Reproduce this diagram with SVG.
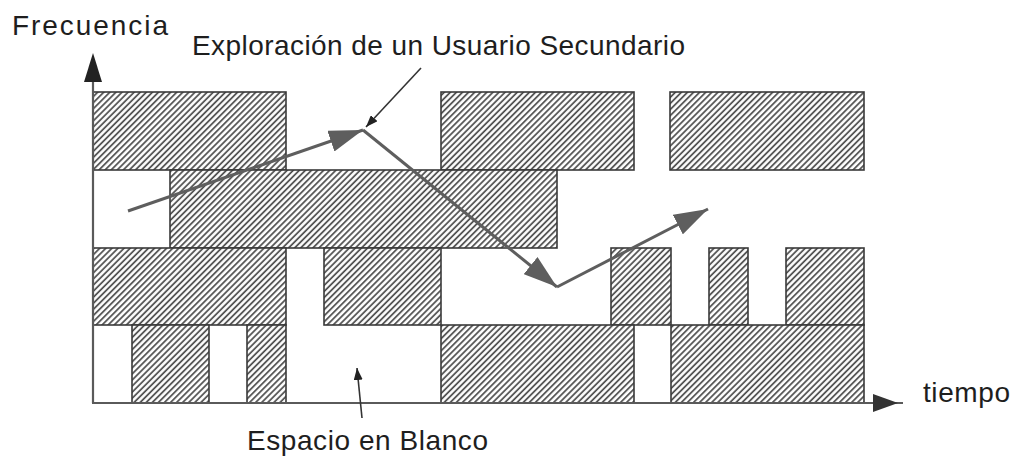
<svg xmlns="http://www.w3.org/2000/svg" width="1017" height="457" viewBox="0 0 1017 457">
<style>
.blk{fill:url(#hatch);stroke:#3a3a3a;stroke-width:1.6}
.lbl{font-family:"Liberation Sans",Arial,sans-serif;font-size:28px;fill:#1e1e1e}
.axis{stroke:#5a5a5a;stroke-width:2.2;fill:none}
.path{stroke:#5e5e5e;stroke-width:3;fill:none;marker-end:url(#bigHead)}
.note{stroke:#333;stroke-width:1.6;fill:none;marker-end:url(#smallHead)}
</style>
<defs>
<pattern id="hatch" patternUnits="userSpaceOnUse" width="4.3" height="4.3" patternTransform="rotate(45)">
<rect width="4.3" height="4.3" fill="#ffffff"/>
<line x1="1" y1="0" x2="1" y2="4.3" stroke="#4a4a4a" stroke-width="1.7"/>
</pattern>
<marker id="bigHead" markerUnits="userSpaceOnUse" viewBox="0 0 34 22" refX="34" refY="11" markerWidth="34" markerHeight="22" orient="auto">
<path d="M0,0 L34,11 L0,22 z" fill="#5e5e5e"/>
</marker>
<marker id="smallHead" markerUnits="userSpaceOnUse" viewBox="0 0 12 9" refX="12" refY="4.5" markerWidth="12" markerHeight="9" orient="auto">
<path d="M0,0 L12,4.5 L0,9 z" fill="#222"/>
</marker>
</defs>
<rect width="1017" height="457" fill="#ffffff"/>

<g id="row1">
<g id="r1a"><rect class="blk" x="93" y="92" width="193" height="78"/></g>
<g id="r1b"><rect class="blk" x="441" y="92" width="193" height="78"/></g>
<g id="r1c"><rect class="blk" x="670" y="92" width="194" height="78"/></g>
</g>
<g id="row2">
<g id="r2a"><rect class="blk" x="170" y="170" width="387" height="78"/></g>
</g>
<g id="row3">
<g id="r3a"><rect class="blk" x="93" y="248" width="193" height="77"/></g>
<g id="r3b"><rect class="blk" x="324" y="248" width="117" height="77"/></g>
<g id="r3c"><rect class="blk" x="611" y="248" width="60" height="77"/></g>
<g id="r3d"><rect class="blk" x="709" y="248" width="39" height="77"/></g>
<g id="r3e"><rect class="blk" x="786" y="248" width="78" height="77"/></g>
</g>
<g id="row4">
<g id="r4a"><rect class="blk" x="132" y="325" width="77" height="78"/></g>
<g id="r4b"><rect class="blk" x="247" y="325" width="39" height="78"/></g>
<g id="r4c"><rect class="blk" x="441" y="325" width="193" height="78"/></g>
<g id="r4d"><rect class="blk" x="671" y="325" width="193" height="78"/></g>
</g>

<g id="axes">
<line class="axis" x1="93" y1="403" x2="93" y2="80"/>
<polygon points="93,53 102,82 84,82" fill="#222"/>
<line class="axis" x1="92" y1="403" x2="903" y2="403"/>
<polygon points="898,403 873,394 873,412" fill="#333"/>
</g>

<g id="connectors">
<line class="path" x1="128" y1="211" x2="363" y2="130"/>
<line class="path" x1="363" y1="130" x2="557" y2="287"/>
<line class="path" x1="557" y1="287" x2="708" y2="209"/>
<line class="note" x1="421" y1="68" x2="366" y2="127"/>
<line class="note" x1="362" y1="418" x2="357" y2="368"/>
</g>

<g id="labels">
<text class="lbl" x="12" y="35" textLength="156" lengthAdjust="spacing">Frecuencia</text>
<text class="lbl" x="192" y="55" textLength="493" lengthAdjust="spacing">Exploración de un Usuario Secundario</text>
<text class="lbl" x="923" y="402" textLength="87" lengthAdjust="spacing">tiempo</text>
<text class="lbl" x="247" y="450" textLength="241" lengthAdjust="spacing">Espacio en Blanco</text>
</g>
</svg>
